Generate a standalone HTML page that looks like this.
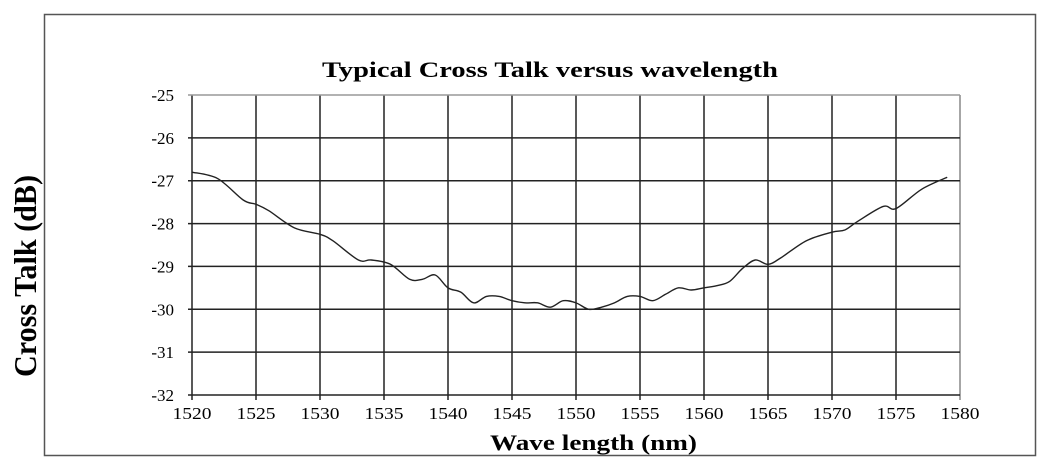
<!DOCTYPE html>
<html><head><meta charset="utf-8"><style>
html,body{margin:0;padding:0;background:#fff;width:1046px;height:470px;overflow:hidden}
svg{display:block}
text{font-family:"Liberation Serif",serif;fill:#000}
</style></head><body>
<svg id="s" width="1046" height="470" viewBox="0 0 1046 470">
<rect x="44.5" y="14.5" width="991" height="441" fill="#fff" stroke="#555" stroke-width="1.5"/>
<g id="grid"></g>
<text x="322" y="77" font-size="22" font-weight="bold" textLength="456" lengthAdjust="spacingAndGlyphs">Typical Cross Talk  versus  wavelength</text>
<text transform="translate(36,276) rotate(-90)" x="-101" y="0" font-size="32" font-weight="bold" textLength="202" lengthAdjust="spacingAndGlyphs">Cross Talk (dB)</text>
<text x="490" y="450" font-size="22" font-weight="bold" textLength="207" lengthAdjust="spacingAndGlyphs">Wave length  (nm)</text>
<path id="curve" fill="none" stroke="#222" stroke-width="1.4"/>
</svg>
<script>
var g=document.getElementById('grid'),h='';
var X0=192,DX=64,Y0=95,DY=300/7;
for(var i=0;i<=12;i++){var x=X0+i*DX;
 h+='<line x1="'+x+'" y1="'+Y0+'" x2="'+x+'" y2="'+(Y0+300+5)+'" stroke="'+(i==12?'#888':'#222')+'" stroke-width="1.5"/>';
 h+='<text x="'+x+'" y="419" text-anchor="middle" font-size="17" textLength="39" lengthAdjust="spacingAndGlyphs">'+(1520+5*i)+'</text>';}
for(var j=0;j<=7;j++){var y=Y0+j*DY;
 h+='<line x1="'+(X0-4)+'" y1="'+y+'" x2="'+(X0+768)+'" y2="'+y+'" stroke="'+(j==0?'#999':'#222')+'" stroke-width="1.5"/>';
 h+='<text x="'+(X0-18)+'" y="'+(y+6)+'" text-anchor="end" font-size="17">'+(-25-j)+'</text>';}
g.innerHTML=h;
var d=[[1520,-26.8],[1522,-26.95],[1524,-27.45],[1525,-27.55],[1526,-27.7],[1528,-28.1],[1530,-28.25],[1531,-28.4],[1533,-28.85],[1534,-28.85],[1535.5,-28.95],[1537,-29.3],[1538,-29.3],[1539,-29.2],[1540,-29.5],[1541,-29.6],[1542,-29.85],[1543,-29.7],[1544,-29.7],[1545,-29.8],[1546,-29.85],[1547,-29.85],[1548,-29.95],[1549,-29.8],[1550,-29.85],[1551,-30.0],[1552,-29.95],[1553,-29.85],[1554,-29.7],[1555,-29.7],[1556,-29.8],[1557,-29.65],[1558,-29.5],[1559,-29.55],[1560,-29.5],[1561,-29.45],[1562,-29.35],[1563,-29.05],[1564,-28.85],[1565,-28.95],[1566,-28.8],[1568,-28.4],[1570,-28.2],[1571,-28.15],[1572,-27.95],[1574,-27.6],[1575,-27.65],[1577,-27.2],[1579,-26.92]];
var p=d.map(function(a){return [X0+(a[0]-1520)*DX/5, Y0+(-25-a[1])*DY];});
var s='M'+p[0][0]+','+p[0][1];
for(var k=0;k<p.length-1;k++){var a=p[k>0?k-1:0],b=p[k],c=p[k+1],e=p[k+2<p.length?k+2:k+1];
 var c1x=b[0]+(c[0]-a[0])/6,c1y=b[1]+(c[1]-a[1])/6,c2x=c[0]-(e[0]-b[0])/6,c2y=c[1]-(e[1]-b[1])/6;
 s+=' C'+c1x+','+c1y+' '+c2x+','+c2y+' '+c[0]+','+c[1];}
document.getElementById('curve').setAttribute('d',s);
</script>
</body></html>
